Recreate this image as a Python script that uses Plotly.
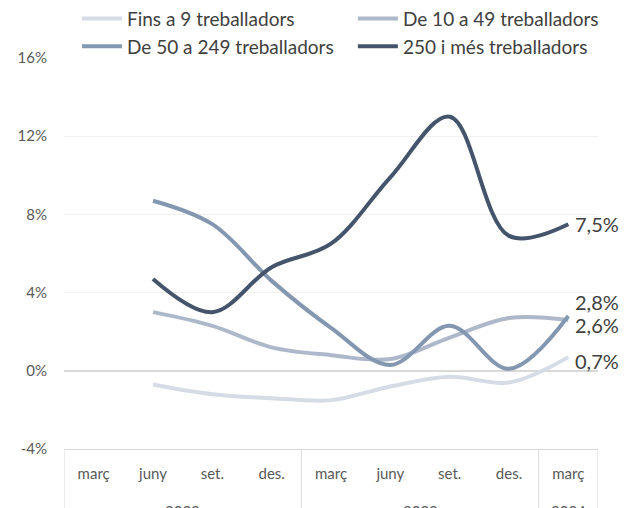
import plotly.graph_objects as go

# categories (any, trimestre)
years = ['2022', '2022', '2022', '2022', '2023', '2023', '2023', '2023', '2024']
months = ['març', 'juny', 'set.', 'des.', 'març', 'juny', 'set.', 'des.', 'març']

# variació (%), sense dada el març 2022
fins_9 = [None, -0.7, -1.2, -1.4, -1.5, -0.8, -0.3, -0.6, 0.7]
de_10_49 = [None, 3.0, 2.3, 1.2, 0.8, 0.6, 1.7, 2.7, 2.6]
de_50_249 = [None, 8.7, 7.5, 4.6, 2.2, 0.3, 2.3, 0.1, 2.8]
mes_250 = [None, 4.7, 3.0, 5.3, 6.5, 9.9, 13.0, 6.9, 7.5]

y_ticks = [-4, 0, 4, 8, 12, 16]
y_ticktext = ['-4%', '0%', '4%', '8%', '12%', '16%']

names = ['Fins a 9 treballadors', 'De 10 a 49 treballadors',
         'De 50 a 249 treballadors', '250 i més treballadors']
colors = ['#d6dce5', '#adb9ca', '#8497b0', '#44546a']
legend_of = ['legend', 'legend2', 'legend', 'legend2']
label_shift = [-4, -5, 14, 0]  # petits desplaçaments de les etiquetes finals
FONT = 'Lato, Open Sans, sans-serif'
GRAY = '#d9d9d9'

xs = list(range(len(months)))

fig = go.Figure()
series = [fins_9, de_10_49, de_50_249, mes_250]
for serie, name, col, lg, dy in zip(series, names, colors, legend_of, label_shift):
    fig.add_trace(go.Scatter(
        x=xs, y=serie, name=name, mode='lines', legend=lg,
        line=dict(color=col, width=4, shape='spline', smoothing=1),
        cliponaxis=False,
    ))
    # etiqueta del darrer valor
    fig.add_annotation(
        x=xs[-1], y=serie[-1], xref='x', yref='y',
        text=('%.1f%%' % serie[-1]).replace('.', ','),
        showarrow=False, xanchor='left', xshift=5, yshift=dy,
        font=dict(size=20, color='#404040', family=FONT),
    )

# etiquetes d'any i separadors de grup sota l'eix
bounds = [-0.5]
for i in range(1, len(years)):
    if years[i] != years[i - 1]:
        bounds.append(i - 0.5)
bounds.append(len(years) - 0.5)
for b in bounds:
    fig.add_shape(type='line', xref='x', yref='paper', x0=b, x1=b, y0=0, y1=-0.2,
                  line=dict(color=GRAY, width=1))
for y in sorted(set(years)):
    idx = [i for i, v in enumerate(years) if v == y]
    fig.add_annotation(x=sum(idx) / len(idx), y=-0.158, xref='x', yref='paper',
                       text=y, showarrow=False, yanchor='middle',
                       font=dict(size=15, color='#595959', family=FONT))

legend_style = dict(orientation='v', y=1.149, xanchor='left', yanchor='top',
                    itemwidth=40, font=dict(size=19, color='#404040'),
                    traceorder='normal', bgcolor='rgba(0,0,0,0)')

fig.update_layout(
    width=631, height=500,
    margin=dict(l=56, r=41, t=50, b=59, autoexpand=False),
    plot_bgcolor='white', paper_bgcolor='white',
    font=dict(family=FONT, color='#595959', size=15),
    showlegend=True,
    legend=dict(x=0.0243, **legend_style),
    legend2=dict(x=0.541, **legend_style),
    xaxis=dict(range=[-0.5, len(months) - 0.5], tickvals=xs, ticktext=months,
               showgrid=False, showline=True, linecolor=GRAY, linewidth=1,
               zeroline=False, ticks='', ticklabelstandoff=11,
               tickfont=dict(size=15, color='#595959'), automargin=False),
    yaxis=dict(range=[-4, 16], tickvals=y_ticks, ticktext=y_ticktext,
               showgrid=True, gridcolor='#f0f0f0', zeroline=True,
               zerolinecolor=GRAY, zerolinewidth=2, showline=False,
               ticks='', ticklabelstandoff=16,
               tickfont=dict(size=15, color='#595959'), automargin=False),
)

fig.write_html('out.html')
